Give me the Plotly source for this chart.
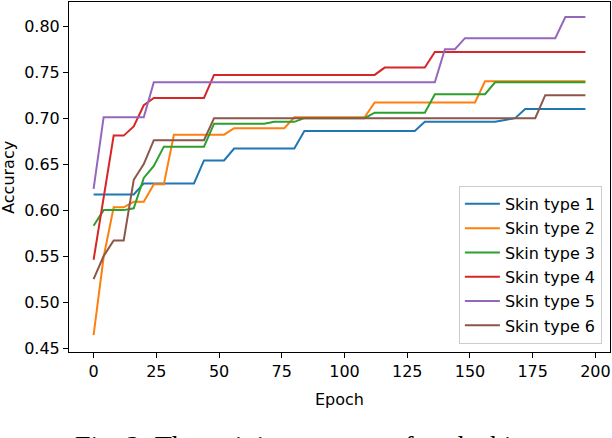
import plotly.graph_objects as go

# epochs at which accuracy was recorded
epochs = [0, 4, 8, 12, 16, 20, 24, 28, 32, 36, 40, 44, 48, 52, 56, 60, 64, 68, 72, 76,
          80, 84, 88, 92, 96, 100, 104, 108, 112, 116, 120, 124, 128, 132, 136, 140,
          144, 148, 152, 156, 160, 164, 168, 172, 176, 180, 184, 188, 192, 196]

skin1 = [0.617, 0.617, 0.617, 0.617, 0.617, 0.629, 0.629, 0.629, 0.629, 0.629,
         0.629, 0.654, 0.654, 0.654, 0.667, 0.667, 0.667, 0.667, 0.667, 0.667,
         0.667, 0.686, 0.686, 0.686, 0.686, 0.686, 0.686, 0.686, 0.686, 0.686,
         0.686, 0.686, 0.686, 0.696, 0.696, 0.696, 0.696, 0.696, 0.696, 0.696,
         0.696, 0.698, 0.700, 0.710, 0.710, 0.710, 0.710, 0.710, 0.710, 0.710]
skin2 = [0.464, 0.549, 0.603, 0.603, 0.609, 0.609, 0.628, 0.628, 0.682, 0.682,
         0.682, 0.682, 0.682, 0.682, 0.689, 0.689, 0.689, 0.689, 0.689, 0.689,
         0.701, 0.701, 0.701, 0.701, 0.701, 0.701, 0.701, 0.701, 0.717, 0.717,
         0.717, 0.717, 0.717, 0.717, 0.717, 0.717, 0.717, 0.717, 0.717, 0.740,
         0.740, 0.740, 0.740, 0.740, 0.740, 0.740, 0.740, 0.740, 0.740, 0.740]
skin3 = [0.583, 0.600, 0.600, 0.600, 0.602, 0.635, 0.648, 0.669, 0.669, 0.669,
         0.669, 0.669, 0.694, 0.694, 0.694, 0.694, 0.694, 0.694, 0.696, 0.696,
         0.696, 0.700, 0.700, 0.700, 0.700, 0.700, 0.700, 0.700, 0.706, 0.706,
         0.706, 0.706, 0.706, 0.706, 0.726, 0.726, 0.726, 0.726, 0.726, 0.726,
         0.739, 0.739, 0.739, 0.739, 0.739, 0.739, 0.739, 0.739, 0.739, 0.739]
skin4 = [0.546, 0.612, 0.681, 0.681, 0.691, 0.714, 0.722, 0.722, 0.722, 0.722,
         0.722, 0.722, 0.747, 0.747, 0.747, 0.747, 0.747, 0.747, 0.747, 0.747,
         0.747, 0.747, 0.747, 0.747, 0.747, 0.747, 0.747, 0.747, 0.747, 0.755,
         0.755, 0.755, 0.755, 0.755, 0.772, 0.772, 0.772, 0.772, 0.772, 0.772,
         0.772, 0.772, 0.772, 0.772, 0.772, 0.772, 0.772, 0.772, 0.772, 0.772]
skin5 = [0.623, 0.701, 0.701, 0.701, 0.701, 0.701, 0.739, 0.739, 0.739, 0.739,
         0.739, 0.739, 0.739, 0.739, 0.739, 0.739, 0.739, 0.739, 0.739, 0.739,
         0.739, 0.739, 0.739, 0.739, 0.739, 0.739, 0.739, 0.739, 0.739, 0.739,
         0.739, 0.739, 0.739, 0.739, 0.739, 0.775, 0.775, 0.787, 0.787, 0.787,
         0.787, 0.787, 0.787, 0.787, 0.787, 0.787, 0.787, 0.810, 0.810, 0.810]
skin6 = [0.525, 0.550, 0.567, 0.567, 0.633, 0.650, 0.676, 0.676, 0.676, 0.676,
         0.676, 0.676, 0.700, 0.700, 0.700, 0.700, 0.700, 0.700, 0.700, 0.700,
         0.700, 0.700, 0.700, 0.700, 0.700, 0.700, 0.700, 0.700, 0.700, 0.700,
         0.700, 0.700, 0.700, 0.700, 0.700, 0.700, 0.700, 0.700, 0.700, 0.700,
         0.700, 0.700, 0.700, 0.700, 0.700, 0.725, 0.725, 0.725, 0.725, 0.725]

names = ["Skin type 1", "Skin type 2", "Skin type 3",
         "Skin type 4", "Skin type 5", "Skin type 6"]
series = [skin1, skin2, skin3, skin4, skin5, skin6]
colors = ["#1f77b4", "#ff7f0e", "#2ca02c", "#d62728", "#9467bd", "#8c564b"]

x_ticks = [0, 25, 50, 75, 100, 125, 150, 175, 200]
y_ticks = [0.45, 0.50, 0.55, 0.60, 0.65, 0.70, 0.75, 0.80]

font = "DejaVu Sans"

fig = go.Figure()
for i, (name, vals) in enumerate(zip(names, series)):
    fig.add_trace(go.Scatter(x=epochs, y=vals, mode="lines", name=name,
                             legendgroup=str(i),
                             line=dict(color=colors[i], width=2)))

axis_style = dict(showgrid=False, zeroline=False, showline=True, mirror=True,
                  linecolor="black", linewidth=1, ticks="outside", ticklen=5,
                  tickwidth=1, tickcolor="black",
                  tickfont=dict(family=font, size=16, color="black"))

fig.update_xaxes(range=[-9.8, 205.8], tickvals=x_ticks, **axis_style)
fig.update_yaxes(range=[0.4457, 0.8263], tickvals=y_ticks, tickformat=".2f",
                 **axis_style)

fig.update_layout(
    width=612, height=438,
    margin=dict(l=69, r=2, t=2, b=86),
    plot_bgcolor="white", paper_bgcolor="white",
    showlegend=True,
    legend=dict(x=0.985, y=0.023, xanchor="right", yanchor="bottom",
                bordercolor="#cccccc", borderwidth=1, bgcolor="white",
                font=dict(family=font, size=16, color="black"),
                itemwidth=35, tracegroupgap=0.5),
    annotations=[
        dict(text="Epoch", xref="paper", yref="paper", x=0.5, y=-0.135,
             xanchor="center", yanchor="middle", showarrow=False,
             font=dict(family=font, size=16, color="black")),
        dict(text="Accuracy", xref="paper", yref="paper", x=-0.113, y=0.5,
             xanchor="center", yanchor="middle", showarrow=False, textangle=-90,
             font=dict(family=font, size=16, color="black")),
        # caption of the paper figure, clipped by the bottom edge as in the source
        dict(text="Fig. 2: The training process of each skin type",
             xref="paper", yref="paper", x=0.479, y=-0.217,
             xanchor="center", yanchor="top", showarrow=False,
             font=dict(family="Liberation Serif", size=28, color="black")),
    ],
)

# drop the default page margin so the figure sits at the window's corner
fig.write_html("out.html", config={"displayModeBar": False},
               post_script="document.body.style.margin='0';"
                           "document.body.style.overflow='hidden';")
